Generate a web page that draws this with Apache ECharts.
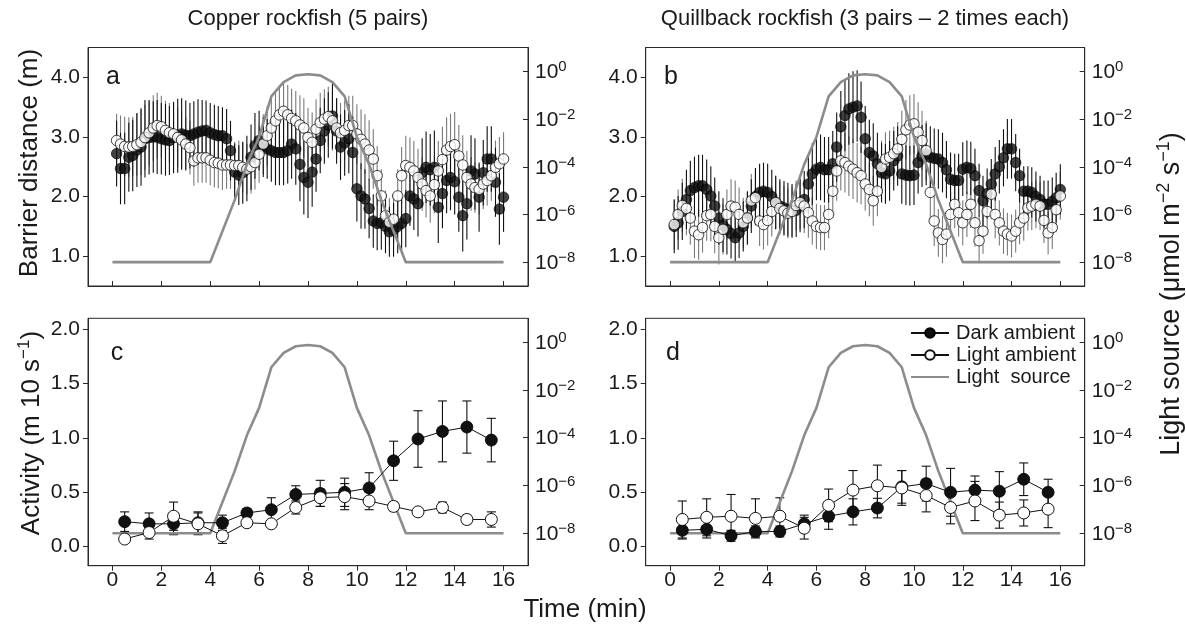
<!DOCTYPE html>
<html><head><meta charset="utf-8">
<script src="https://cdn.jsdelivr.net/npm/echarts@6/dist/echarts.min.js"></script>
<style>html,body{margin:0;padding:0;background:#fff}#c{width:1186px;height:629px}</style>
</head><body><div id="c"></div>
<script>
// ---------- DATA ----------
// 10-s bins (min) for the barrier-distance panels
const denseTime = [
 0.17,0.33,0.5,0.67,0.83,1, 1.17,1.33,1.5,1.67,1.83,2, 2.17,2.33,2.5,2.67,2.83,3,
 3.17,3.33,3.5,3.67,3.83,4, 4.17,4.33,4.5,4.67,4.83,5, 5.17,5.33,5.5,5.67,5.83,6,
 6.17,6.33,6.5,6.67,6.83,7, 7.17,7.33,7.5,7.67,7.83,8, 8.17,8.33,8.5,8.67,8.83,9,
 9.17,9.33,9.5,9.67,9.83,10, 10.17,10.33,10.5,10.67,10.83,11, 11.17,11.33,11.5,11.67,11.83,12,
 12.17,12.33,12.5,12.67,12.83,13, 13.17,13.33,13.5,13.67,13.83,14, 14.17,14.33,14.5,14.67,14.83,15,
 15.17,15.33,15.5,15.67,15.83,16];

// Panel a – Copper rockfish, barrier distance (m)
const aDark = [
 2.72,2.47,2.47,2.66,2.69,2.78,2.83,2.97,2.99,3.00,3.00,2.97,
 2.95,2.94,2.99,3.02,3.05,3.03,3.02,3.05,3.08,3.10,3.11,3.07,
 3.04,3.02,3.02,2.97,2.77,2.41,2.36,2.40,2.47,2.66,2.85,2.94,
 2.83,2.80,2.77,2.74,2.74,2.74,2.77,2.88,2.80,2.54,2.32,2.24,
 2.41,2.63,2.94,3.10,3.20,3.35,3.10,2.83,2.90,2.97,2.74,2.13,
 2.01,1.96,1.80,1.59,1.55,1.56,1.50,1.41,1.44,1.50,1.55,1.63,
 2.01,1.96,1.88,2.40,2.49,2.45,2.49,1.82,2.05,2.27,2.32,2.25,
 1.99,1.68,1.88,2.43,2.38,1.99,2.40,2.63,2.63,2.24,1.79,1.99];
const aDarkErr = [
 0.55,0.6,0.6,0.58,0.6,0.62,0.65,0.65,0.62,0.6,0.62,0.6,
 0.6,0.58,0.6,0.62,0.6,0.58,0.55,0.55,0.55,0.52,0.5,0.5,
 0.5,0.5,0.48,0.5,0.5,0.48,0.5,0.52,0.55,0.55,0.55,0.5,
 0.5,0.5,0.52,0.55,0.55,0.55,0.55,0.58,0.6,0.62,0.62,0.6,
 0.58,0.55,0.55,0.55,0.55,0.55,0.55,0.55,0.55,0.58,0.6,0.55,
 0.55,0.5,0.5,0.45,0.45,0.45,0.45,0.42,0.45,0.45,0.45,0.48,
 0.5,0.52,0.55,0.58,0.6,0.6,0.62,0.6,0.58,0.55,0.55,0.55,
 0.58,0.6,0.6,0.6,0.6,0.58,0.55,0.55,0.55,0.58,0.6,0.58];
const aLight = [
 2.94,2.88,2.84,2.83,2.84,2.87,2.91,2.99,3.07,3.15,3.19,3.17,
 3.11,3.07,3.05,2.99,2.95,2.88,2.82,2.60,2.65,2.65,2.65,2.61,
 2.57,2.56,2.53,2.53,2.53,2.52,2.52,2.49,2.46,2.50,2.57,2.71,
 2.88,3.02,3.15,3.27,3.37,3.43,3.37,3.31,3.27,3.20,3.15,2.99,
 2.91,3.13,3.24,3.30,3.34,3.27,3.15,3.07,3.11,3.19,3.19,3.05,
 2.96,2.88,2.78,2.63,2.35,2.01,1.68,1.57,1.62,2.01,2.35,2.52,
 2.49,2.43,2.32,2.21,2.10,2.01,2.20,2.43,2.62,2.78,2.84,2.87,
 2.68,2.53,2.32,2.21,2.15,2.12,2.21,2.27,2.35,2.49,2.55,2.63];
const aLightErr = [
 0.45,0.48,0.5,0.5,0.5,0.52,0.55,0.55,0.55,0.55,0.55,0.52,
 0.5,0.5,0.5,0.5,0.48,0.45,0.45,0.42,0.42,0.42,0.42,0.42,
 0.42,0.42,0.42,0.4,0.4,0.4,0.42,0.42,0.42,0.45,0.45,0.48,
 0.5,0.5,0.5,0.5,0.5,0.5,0.5,0.5,0.5,0.5,0.5,0.5,
 0.5,0.5,0.5,0.5,0.5,0.5,0.5,0.5,0.5,0.5,0.5,0.5,
 0.5,0.5,0.5,0.5,0.5,0.45,0.42,0.4,0.42,0.45,0.48,0.5,
 0.5,0.5,0.48,0.45,0.45,0.45,0.48,0.5,0.55,0.55,0.55,0.55,
 0.52,0.5,0.45,0.45,0.42,0.42,0.42,0.42,0.42,0.45,0.45,0.45];

// Panel b – Quillback rockfish, barrier distance (m)
const bDark = [
 1.50,1.56,1.75,1.95,2.10,2.15,2.18,2.18,2.12,2.01,1.84,1.64,
 1.52,1.45,1.38,1.31,1.39,1.50,1.64,1.84,2.00,2.07,2.09,2.07,
 2.00,1.90,1.84,1.81,1.78,1.76,1.77,1.85,1.95,2.21,2.38,2.46,
 2.49,2.45,2.45,2.55,2.83,3.17,3.36,3.47,3.50,3.52,3.33,2.97,
 2.74,2.68,2.55,2.40,2.38,2.43,2.60,2.68,2.38,2.36,2.35,2.36,
 2.57,2.68,2.71,2.66,2.64,2.63,2.57,2.45,2.29,2.27,2.27,2.46,
 2.49,2.47,2.35,2.10,1.93,2.05,2.21,2.38,2.50,2.65,2.80,2.80,
 2.57,2.35,2.09,2.09,2.07,2.00,1.95,1.87,1.87,1.92,1.98,2.12];
const bDarkErr = [
 0.45,0.45,0.48,0.5,0.5,0.52,0.52,0.52,0.5,0.5,0.48,0.45,
 0.45,0.42,0.42,0.42,0.42,0.42,0.45,0.45,0.48,0.48,0.48,0.48,
 0.45,0.45,0.45,0.45,0.45,0.45,0.45,0.45,0.48,0.5,0.52,0.52,
 0.55,0.55,0.55,0.55,0.58,0.6,0.6,0.6,0.6,0.6,0.6,0.55,
 0.55,0.55,0.52,0.5,0.5,0.5,0.5,0.5,0.5,0.5,0.5,0.5,
 0.52,0.52,0.52,0.52,0.5,0.5,0.5,0.48,0.45,0.45,0.45,0.45,
 0.45,0.45,0.45,0.45,0.42,0.42,0.42,0.45,0.45,0.48,0.5,0.5,
 0.48,0.45,0.42,0.42,0.42,0.42,0.4,0.4,0.4,0.4,0.42,0.42];
const bLight = [
 1.53,1.70,1.85,1.80,1.64,1.42,1.36,1.48,1.68,1.70,1.50,1.31,
 1.45,1.70,1.84,1.82,1.70,1.56,1.64,1.93,1.98,1.59,1.53,1.60,
 1.75,1.90,1.80,1.76,1.72,1.75,1.85,1.90,1.84,1.73,1.59,1.50,
 1.48,1.48,1.70,2.09,2.43,2.60,2.57,2.51,2.46,2.40,2.35,2.21,
 2.12,1.93,2.09,2.49,2.63,2.66,2.72,2.80,2.96,3.12,3.20,3.22,
 3.08,2.94,2.77,2.07,1.59,1.39,1.28,1.37,1.70,1.87,1.73,1.56,
 1.70,1.87,1.56,1.26,1.42,1.75,2.04,1.70,1.56,1.42,1.37,1.34,
 1.42,1.56,1.64,1.81,1.84,1.87,1.84,1.60,1.39,1.48,1.78,2.01];
const bLightErr = [
 0.42,0.42,0.45,0.45,0.45,0.45,0.42,0.42,0.42,0.45,0.45,0.45,
 0.42,0.42,0.45,0.45,0.45,0.42,0.42,0.45,0.45,0.42,0.42,0.42,
 0.42,0.45,0.45,0.42,0.42,0.42,0.42,0.45,0.45,0.42,0.4,0.38,
 0.38,0.38,0.4,0.45,0.5,0.5,0.5,0.5,0.5,0.5,0.48,0.45,
 0.45,0.42,0.42,0.45,0.45,0.45,0.45,0.45,0.48,0.5,0.5,0.5,
 0.5,0.5,0.5,0.45,0.42,0.4,0.4,0.38,0.38,0.4,0.4,0.38,
 0.38,0.4,0.4,0.38,0.38,0.4,0.42,0.4,0.38,0.38,0.36,0.36,
 0.36,0.36,0.38,0.38,0.4,0.4,0.4,0.38,0.36,0.36,0.38,0.4];

// 1-min bins for the activity panels
const binTime = [0.5,1.5,2.5,3.5,4.5,5.5,6.5,7.5,8.5,9.5,10.5,11.5,12.5,13.5,14.5,15.5];
// Panel c – Copper rockfish activity (m 10 s^-1)
const cDark    = [0.23,0.21,0.21,0.22,0.22,0.31,0.34,0.48,0.49,0.50,0.54,0.79,0.99,1.06,1.10,0.98];
const cDarkErr = [0.09,0.10,0.10,0.10,0.07,0.04,0.11,0.08,0.12,0.13,0.14,0.18,0.26,0.28,0.24,0.20];
const cLight   = [0.07,0.13,0.28,0.21,0.10,0.22,0.21,0.36,0.45,0.46,0.42,0.37,0.32,0.36,0.25,0.25];
const cLightErr= [0.03,0.06,0.13,0.10,0.07,0.03,0.03,0.06,0.08,0.12,0.08,0.04,0.03,0.05,0.04,0.07];
// Panel d – Quillback rockfish activity
const dDark    = [0.15,0.16,0.10,0.14,0.14,0.21,0.28,0.32,0.355,0.55,0.58,0.50,0.52,0.51,0.62,0.50];
const dDarkErr = [0.08,0.08,0.05,0.05,0.05,0.08,0.12,0.12,0.09,0.15,0.16,0.22,0.13,0.18,0.15,0.12];
const dLight   = [0.25,0.27,0.28,0.26,0.28,0.17,0.38,0.52,0.56,0.54,0.47,0.36,0.42,0.29,0.31,0.345];
const dLightErr= [0.17,0.17,0.20,0.18,0.17,0.10,0.15,0.18,0.19,0.16,0.15,0.15,0.18,0.12,0.12,0.17];

// Light source (log10 of µmol m^-2 s^-1)
const lightTime = [0,4,5,5.5,6,6.5,7,7.5,8,8.5,9,9.5,10,10.5,11,12,16];
const lightExp  = [-8,-8,-5.4,-3.9,-2.75,-1.05,-0.45,-0.17,-0.12,-0.17,-0.45,-1.05,-2.75,-3.9,-5.4,-8,-8];

// tick labels
const xTickVals = [0,2,4,6,8,10,12,14,16];
const distTicks = [1,2,3,4];
const actTicks = [0,0.5,1,1.5,2];
const lightTicks = [-8,-6,-4,-2,0];

// ---------- CHART ----------
const FONT = '"Liberation Sans", Arial, Helvetica, sans-serif';
const TXT = '#1a1a1a';
const AX = '#2a2a2a';
const GRAY = '#8c8c8c';
const TICKFS = 21;
const grids = [
  {left: 88, top: 47.5, width: 440, height: 238.5},
  {left: 645.7, top: 47.5, width: 439, height: 238.5},
  {left: 88, top: 318.3, width: 440, height: 247.4},
  {left: 645.7, top: 318.3, width: 439, height: 247.4}
];
const leftRange = [[0.5,4.5],[0.5,4.5],[-0.175,2.1],[-0.175,2.1]];
const rightRange = [[-9,1],[-9,1],[-9.36,1],[-9.36,1]];

const xAxes = [], yAxes = [];
grids.forEach((g, i) => {
  const bottom = i >= 2;
  xAxes.push({
    type: 'value', gridIndex: i, min: -1, max: 17,
    axisLine: {show: true, onZero: false, lineStyle: {color: AX, width: 1}},
    axisTick: {show: true, inside: !bottom, length: 5, customValues: xTickVals, lineStyle: {color: AX}},
    axisLabel: {show: bottom, customValues: xTickVals, fontSize: TICKFS, fontFamily: FONT, color: TXT, margin: 4},
    splitLine: {show: false}
  });
  yAxes.push({
    type: 'value', gridIndex: i, position: 'left', min: leftRange[i][0], max: leftRange[i][1],
    axisLine: {show: true, onZero: false, lineStyle: {color: AX}},
    axisTick: {show: true, inside: false, length: 5, customValues: bottom ? actTicks : distTicks, lineStyle: {color: AX}},
    axisLabel: {customValues: bottom ? actTicks : distTicks, fontSize: TICKFS, fontFamily: FONT, color: TXT, margin: 8,
      formatter: v => v.toFixed(1)},
    splitLine: {show: false}
  });
  yAxes.push({
    type: 'value', gridIndex: i, position: 'right', min: rightRange[i][0], max: rightRange[i][1],
    axisLine: {show: true, onZero: false, lineStyle: {color: AX}},
    axisTick: {show: true, inside: true, length: 5, customValues: lightTicks, lineStyle: {color: AX}},
    axisLabel: {customValues: lightTicks, margin: 7,
      formatter: v => '{b|10}{s|' + (v === 0 ? '0' : '\u2212' + (-v)) + '}',
      rich: {
        b: {fontSize: TICKFS, fontFamily: FONT, color: TXT, lineHeight: 23, verticalAlign: 'bottom'},
        s: {fontSize: 15, fontFamily: FONT, color: TXT, lineHeight: 14, verticalAlign: 'top'}
      }},
    splitLine: {show: false}
  });
});

function errSeries(gi, xs, ys, es, color, cap, z) {
  return {
    type: 'custom', xAxisIndex: gi, yAxisIndex: gi * 2, silent: true, z: z,
    data: xs.map((x, i) => [x, ys[i] - es[i], ys[i] + es[i]]),
    encode: {x: 0, y: [1, 2]},
    renderItem: function (params, api) {
      const x = api.value(0);
      const p = api.coord([x, api.value(1)]);
      const q = api.coord([x, api.value(2)]);
      const st = {stroke: color, lineWidth: 1.1};
      const ch = [{type: 'line', shape: {x1: p[0], y1: p[1], x2: q[0], y2: q[1]}, style: st}];
      if (cap) {
        ch.push({type: 'line', shape: {x1: p[0] - cap, y1: p[1], x2: p[0] + cap, y2: p[1]}, style: st});
        ch.push({type: 'line', shape: {x1: q[0] - cap, y1: q[1], x2: q[0] + cap, y2: q[1]}, style: st});
      }
      return {type: 'group', children: ch};
    }
  };
}
function lightSeries(gi, name, z) {
  return {
    name: name, type: 'line', xAxisIndex: gi, yAxisIndex: gi * 2 + 1, z: z,
    data: lightTime.map((t, i) => [t, lightExp[i]]),
    symbol: 'none', silent: true,
    itemStyle: {color: GRAY},
    lineStyle: {color: GRAY, width: 2.6}
  };
}
function dotSeries(gi, name, xs, ys, dark) {
  return {
    name: name, type: 'scatter', xAxisIndex: gi, yAxisIndex: gi * 2, z: dark ? 3 : 4,
    data: xs.map((x, i) => [x, ys[i]]),
    symbol: 'circle', symbolSize: 10.5, silent: true,
    itemStyle: dark ? {color: '#111', borderColor: '#000', borderWidth: 0.8}
                    : {color: '#fff', borderColor: '#111', borderWidth: 1}
  };
}
function actSeries(gi, name, xs, ys, dark) {
  return {
    name: name, type: 'line', xAxisIndex: gi, yAxisIndex: gi * 2, z: dark ? 3 : 4,
    data: xs.map((x, i) => [x, ys[i]]),
    symbol: 'circle', symbolSize: 12, showSymbol: true, silent: true,
    lineStyle: {color: '#111', width: 1},
    itemStyle: dark ? {color: '#111', borderColor: '#000', borderWidth: 0.8}
                    : {color: '#fff', borderColor: '#111', borderWidth: 1}
  };
}

const series = [
  // panel a
  errSeries(0, denseTime, aLight, aLightErr, '#7a7a7a', 0, 1),
  errSeries(0, denseTime, aDark, aDarkErr, '#111', 0, 1),
  dotSeries(0, 'a dark', denseTime, aDark, true),
  dotSeries(0, 'a light', denseTime, aLight, false),
  lightSeries(0, 'a source', 5),
  // panel b
  errSeries(1, denseTime, bLight, bLightErr, '#7a7a7a', 0, 1),
  errSeries(1, denseTime, bDark, bDarkErr, '#111', 0, 1),
  dotSeries(1, 'b dark', denseTime, bDark, true),
  dotSeries(1, 'b light', denseTime, bLight, false),
  lightSeries(1, 'b source', 5),
  // panel c
  lightSeries(2, 'c source', 2),
  errSeries(2, binTime, cDark, cDarkErr, '#111', 4.5, 1),
  errSeries(2, binTime, cLight, cLightErr, '#111', 4.5, 1),
  actSeries(2, 'c dark', binTime, cDark, true),
  actSeries(2, 'c light', binTime, cLight, false),
  // panel d
  lightSeries(3, 'Light source', 2),
  errSeries(3, binTime, dDark, dDarkErr, '#111', 4.5, 1),
  errSeries(3, binTime, dLight, dLightErr, '#111', 4.5, 1),
  actSeries(3, 'Dark ambient', binTime, dDark, true),
  actSeries(3, 'Light ambient', binTime, dLight, false)
];

function txt(x, y, text, size, extra) {
  return Object.assign({
    type: 'text', x: x, y: y, silent: true,
    style: {text: text, font: size + 'px ' + FONT, fill: TXT, align: 'center', verticalAlign: 'middle',
            textAlign: 'center', textVerticalAlign: 'middle'}
  }, extra || {});
}
function richTxt(x, y, text, size, supSize, rot) {
  return {
    type: 'text', x: x, y: y, rotation: rot, silent: true,
    style: {text: text, fill: TXT, align: 'center', verticalAlign: 'middle',
      textAlign: 'center', textVerticalAlign: 'middle',
      rich: {
        n: {fontSize: size, fontFamily: FONT, fill: TXT, color: TXT, lineHeight: size + 3, verticalAlign: 'bottom'},
        s: {fontSize: supSize, fontFamily: FONT, fill: TXT, color: TXT, lineHeight: supSize, verticalAlign: 'top'}
      }}
  };
}

const option = {
  animation: false,
  backgroundColor: '#fff',
  grid: grids.map(g => Object.assign({show: true, borderColor: AX, borderWidth: 1, containLabel: false}, g)),
  xAxis: xAxes,
  yAxis: yAxes,
  legend: {
    data: ['Dark ambient', 'Light ambient', {name: 'Light source', itemStyle: {opacity: 0}}],
    orient: 'vertical', left: 910, top: 323, padding: 0, itemWidth: 38, itemHeight: 12, itemGap: 2,
    selectedMode: false,
    textStyle: {fontSize: 20, lineHeight: 20, fontFamily: FONT, color: TXT, padding: [0, 0, 0, 2]},
    formatter: n => n === 'Light source' ? 'Light  source' : n
  },
  series: series,
  graphic: [
    txt(308, 19, 'Copper rockfish (5 pairs)', 22),
    txt(865, 19, 'Quillback rockfish (3 pairs \u2013 2 times each)', 22),
    txt(113, 77, 'a', 25), txt(671, 77, 'b', 25),
    txt(117, 353, 'c', 25), txt(673, 353, 'd', 25),
    txt(30, 163, 'Barrier distance (m)', 26, {rotation: Math.PI / 2}),
    richTxt(30, 433, '{n|Activity (m 10 s}{s|\u22121}{n|)}', 26, 17, Math.PI / 2),
    richTxt(1170, 294, '{n|Light source (\u03bcmol m}{s|\u22122}{n| s}{s|\u22121}{n|)}', 27, 18, Math.PI / 2),
    txt(585, 610, 'Time (min)', 26)
  ]
};

const chart = echarts.init(document.getElementById('c'), null, {renderer: 'canvas'});
chart.setOption(option);
</script>
</body></html>
